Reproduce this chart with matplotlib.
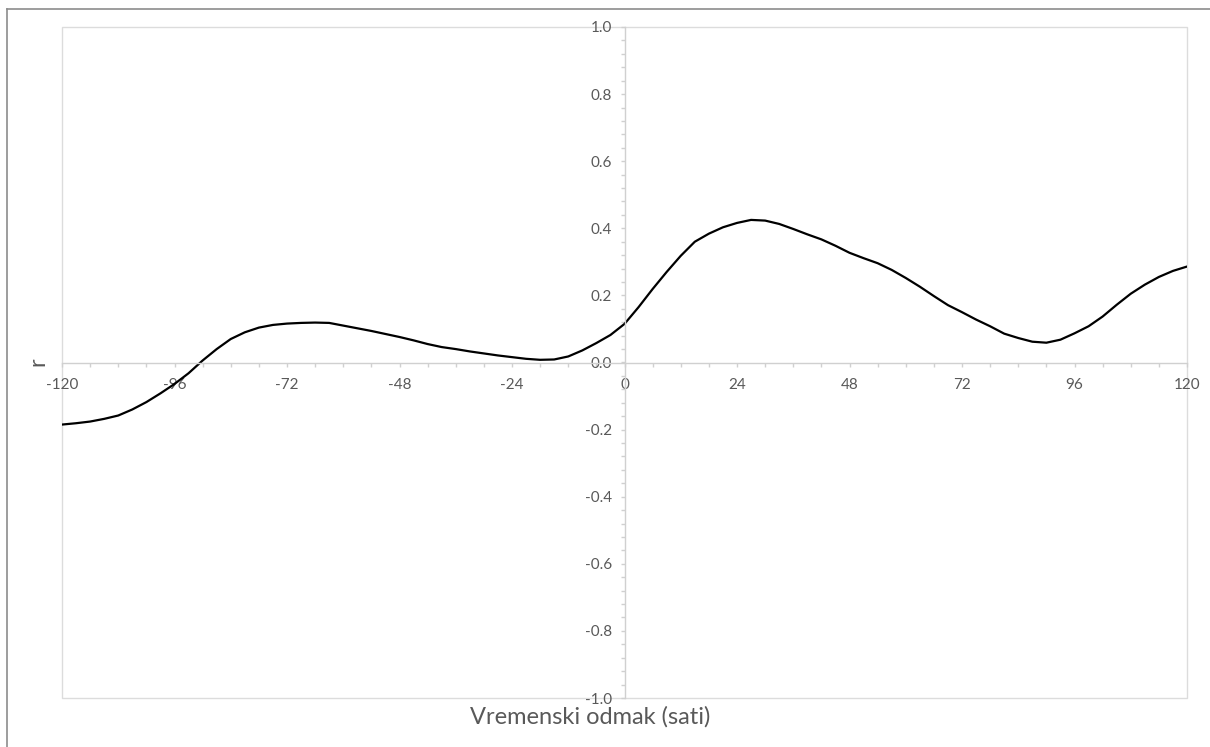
import matplotlib.pyplot as plt
from matplotlib.lines import Line2D
from matplotlib.patches import Rectangle
from matplotlib.ticker import FormatStrFormatter, MultipleLocator

plt.rcParams["font.family"] = ["Lato", "DejaVu Sans"]
plt.rcParams["axes.unicode_minus"] = False

# lag in hours and the correlation coefficient at each lag
lag_hours = list(range(-120, 121, 3))
r_values = [
    -0.185, -0.181, -0.176, -0.168, -0.158, -0.140, -0.118, -0.092, -0.064,
    -0.032, 0.006, 0.040, 0.070, 0.090, 0.104, 0.112, 0.116, 0.118, 0.119,
    0.118, 0.110, 0.102, 0.094, 0.085, 0.076, 0.066, 0.055, 0.046, 0.040,
    0.033, 0.027, 0.021, 0.016, 0.011, 0.008, 0.009, 0.018, 0.036, 0.058,
    0.082, 0.115, 0.165, 0.219, 0.270, 0.318, 0.360, 0.384, 0.403, 0.416,
    0.425, 0.423, 0.413, 0.398, 0.382, 0.367, 0.348, 0.327, 0.311, 0.296,
    0.276, 0.252, 0.226, 0.198, 0.171, 0.150, 0.128, 0.108, 0.086, 0.073,
    0.062, 0.059, 0.068, 0.087, 0.108, 0.137, 0.172, 0.205, 0.232, 0.255,
    0.273, 0.286,
]

AXIS_GRAY = "#d0d0d0"
TEXT_GRAY = "#595959"

W, H = 1210, 747
fig = plt.figure(figsize=(W / 100, H / 100), dpi=100)
ax = fig.add_axes([62 / W, 1 - 698 / H, (1187 - 62) / W, (698 - 27) / H])

ax.plot(lag_hours, r_values, color="black", lw=1.6,
        solid_capstyle="round", solid_joinstyle="round")

ax.set_xlim(-120, 120)
ax.set_ylim(-1.0, 1.0)

# axes cross at the origin, like a spreadsheet chart
for side in ("top", "right"):
    ax.spines[side].set_visible(False)
ax.spines["left"].set_position(("data", 0))
ax.spines["bottom"].set_position(("data", 0))
for side in ("left", "bottom"):
    ax.spines[side].set_color(AXIS_GRAY)
    ax.spines[side].set_linewidth(1.0)

ax.xaxis.set_major_locator(MultipleLocator(24))
ax.xaxis.set_minor_locator(MultipleLocator(6))
ax.yaxis.set_major_locator(MultipleLocator(0.2))
ax.yaxis.set_minor_locator(MultipleLocator(0.04))
ax.yaxis.set_major_formatter(FormatStrFormatter("%.1f"))

ax.tick_params(axis="both", which="both", color=AXIS_GRAY, width=1.0,
               labelcolor=TEXT_GRAY, labelsize=11)
ax.tick_params(axis="x", which="both", direction="out", length=3, pad=8)
ax.tick_params(axis="y", which="both", direction="out", length=3, pad=6)

# plot area frame
ax.add_patch(Rectangle((0, 0), 1, 1, transform=ax.transAxes, fill=False,
                       ec="#dcdcdc", lw=1.0, clip_on=False, zorder=0))

fig.text(590 / W, 1 - 717 / H, "Vremenski odmak (sati)", ha="center",
         va="center", fontsize=17, color=TEXT_GRAY)
fig.text(38 / W, 1 - 362 / H, "r", ha="center", va="center", rotation=90,
         fontsize=17, color=TEXT_GRAY)

# outer chart border
fig.add_artist(Line2D([7 / W, 7 / W], [0, 1 - 9 / H], color="#8c8c8c", lw=1.2))
fig.add_artist(Line2D([7 / W, 1], [1 - 9 / H, 1 - 9 / H], color="#8c8c8c", lw=1.2))

fig.savefig("out.png", dpi=100, facecolor="white")
plt.close(fig)
